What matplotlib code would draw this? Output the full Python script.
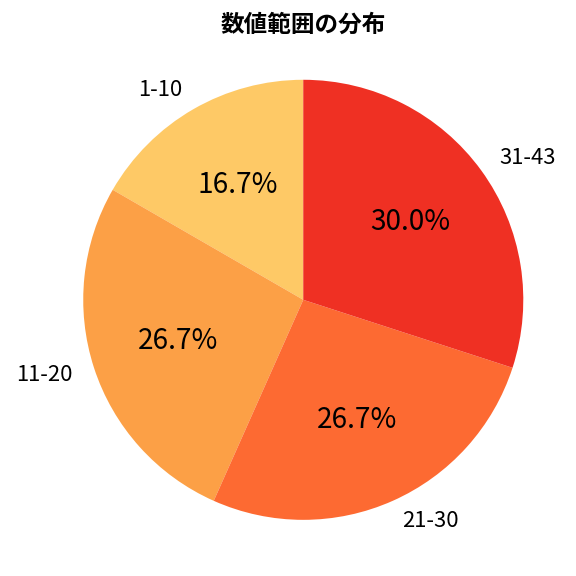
import matplotlib
matplotlib.use("Agg")
import matplotlib.pyplot as plt

plt.rcParams['font.family'] = ['Noto Sans CJK JP', 'DejaVu Sans']

labels = ['1-10', '11-20', '21-30', '31-43']
counts = [5, 8, 8, 9]
colors = ['#fec966', '#fca046', '#fd6a32', '#ef3023']

fig = plt.figure(figsize=(6, 6), dpi=96)
ax = fig.add_axes([0.049, 0.002, 0.955, 0.955])
wedges, texts, autotexts = ax.pie(
    counts, labels=labels, colors=colors, autopct='%1.1f%%',
    startangle=90, counterclock=True,
    textprops={'fontsize': 16.5})
for t in autotexts:
    t.set_fontsize(21)
ax.set_xlim(-1.25, 1.25)
ax.set_ylim(-1.25, 1.25)
ax.set_aspect('equal')
fig.text(0.526, 0.957, '数値範囲の分布', fontsize=17.7, fontweight='bold',
         ha='center', va='center')
fig.savefig('out.png')
